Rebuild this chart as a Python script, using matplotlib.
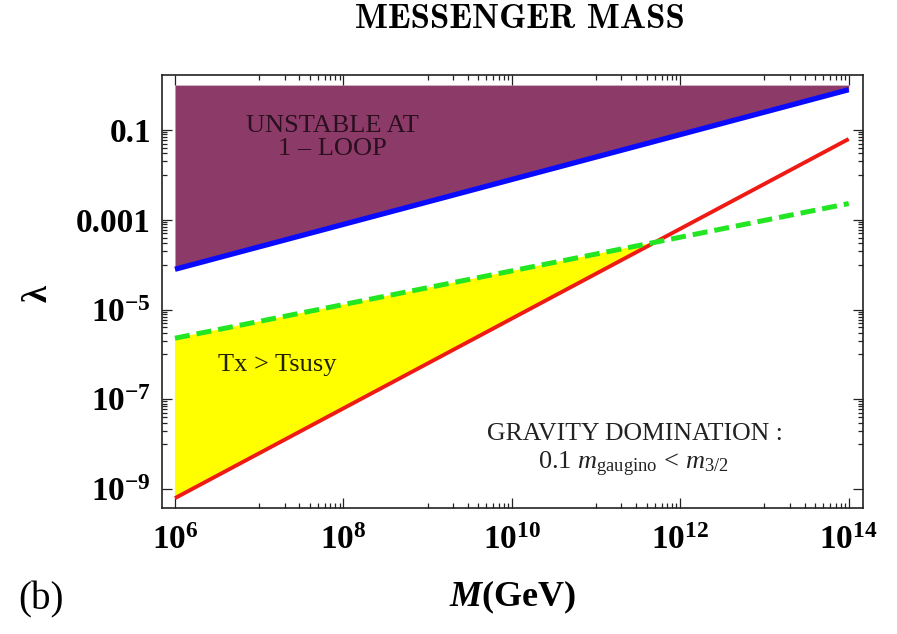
import numpy as np
import matplotlib
matplotlib.use("Agg")
import matplotlib.pyplot as plt
from matplotlib.ticker import FixedLocator, FuncFormatter

plt.rcParams['mathtext.fontset'] = 'custom'
plt.rcParams['mathtext.rm'] = 'Liberation Serif'
plt.rcParams['mathtext.it'] = 'Liberation Serif:italic'
plt.rcParams['mathtext.bf'] = 'Liberation Serif:bold'
plt.rcParams['mathtext.bfit'] = 'Liberation Serif:bold:italic'
plt.rcParams['font.family'] = 'Liberation Serif'

# Messenger mass range (GeV) and the three boundary curves (lambda values at the ends)
mass = [1e6, 1e14]
lam_unstable = [7.9e-5, 0.79]      # one-loop stability bound (blue)
lam_gravity = [6.3e-10, 0.063]     # gravity domination bound (red)
lam_temp = [2.3e-6, 2.3e-3]        # Tx = Tsusy (green dashed)
lam_top = 1.0

x_major = [1e6, 1e8, 1e10, 1e12, 1e14]
y_major = [1e-9, 1e-7, 1e-5, 1e-3, 1e-1]
y_major_labels = [r'$\mathbf{10^{-9}}$', r'$\mathbf{10^{-7}}$', r'$\mathbf{10^{-5}}$', '0.001', '0.1']

fig = plt.figure(figsize=(8.97, 6.34), dpi=100)
ax = fig.add_axes([162/897, 1-508/634, (863-162)/897, (508-75)/634])
ax.set_xscale('log')
ax.set_yscale('log')
ax.set_xlim(10**5.846, 10**14.17)
ax.set_ylim(10**-9.42, 10**0.225)

# unstable region above the blue line
ax.fill_between(mass, lam_unstable, lam_top, color='#8c3a68', lw=0, zorder=1)
ax.plot(mass, lam_unstable, color='#0a0aff', lw=3.8, solid_capstyle='butt', zorder=4)

# crossing of the red and green lines (both straight in log-log)
lm = np.log10(mass)
lg = np.log10(lam_gravity)
lt = np.log10(lam_temp)
sg = (lg[1] - lg[0]) / (lm[1] - lm[0])
st = (lt[1] - lt[0]) / (lm[1] - lm[0])
xc = lm[0] + (lt[0] - lg[0]) / (sg - st)
yc = lg[0] + sg * (xc - lm[0])
ax.fill([mass[0], 10**xc, mass[0]], [lam_temp[0], 10**yc, lam_gravity[0]],
        color='#ffff00', lw=0, zorder=1)
ax.plot(mass, lam_gravity, color='#f01a14', lw=2.8, solid_capstyle='butt', zorder=3)
ax.plot(mass, lam_temp, color='#22e622', lw=3.6, ls=(0, (3.0, 1.4)), zorder=3)

# ticks
ax.xaxis.set_major_locator(FixedLocator(x_major))
ax.xaxis.set_minor_locator(FixedLocator([m * 10.0**k for k in (7, 9, 11, 13) for m in range(1, 10)]))
ax.yaxis.set_major_locator(FixedLocator(y_major))
ax.yaxis.set_minor_locator(FixedLocator([m * 10.0**k for k in (-8, -6, -4, -2) for m in range(1, 10)]))
ax.xaxis.set_major_formatter(FuncFormatter(lambda v, p: r'$\mathbf{10^{%d}}$' % round(np.log10(v))))
ax.set_yticks(y_major)
ax.set_yticklabels(y_major_labels)
ax.xaxis.set_minor_formatter(FuncFormatter(lambda v, p: ''))
ax.yaxis.set_minor_formatter(FuncFormatter(lambda v, p: ''))
ax.tick_params(which='both', direction='in', top=True, right=True, width=0.9, colors='#222222')
ax.tick_params(which='major', length=7, labelsize=24)
ax.tick_params(axis='x', which='major', pad=12)
ax.tick_params(axis='y', which='major', pad=8)
ax.tick_params(which='minor', length=3.5)
for lab in ax.get_xticklabels() + ax.get_yticklabels():
    lab.set_fontweight('bold')
    lab.set_color('black')
for s in ax.spines.values():
    s.set_linewidth(1.2)
    s.set_color('#222222')

# region annotations
ax.text(0.243, 0.856, 'UNSTABLE AT\n1 \u2013 LOOP', transform=ax.transAxes, ha='center', va='center',
        fontsize=19, color='#2a0f1f', linespacing=1.1, zorder=5)
ax.text(0.165, 0.33, 'Tx > Tsusy', transform=ax.transAxes, ha='center', va='center',
        fontsize=19, color='#222200', zorder=5)
ax.text(0.675, 0.17, 'GRAVITY DOMINATION :', transform=ax.transAxes, ha='center', va='center',
        fontsize=18.5, color='#222222', zorder=5)
ax.text(0.672, 0.1, r'$\mathrm{0.1}\ m_{\mathrm{gaugino}}\,<\,m_{3/2}$', transform=ax.transAxes,
        ha='center', va='center', fontsize=19, color='#222222', zorder=5)

# titles and axis labels
fig.text(520/897, 1-20/634, 'MESSENGER MASS', ha='center', va='center', fontsize=25,
         fontfamily='cmb10')
fig.text(38/897, 1-293/634, r'$\boldsymbol{\lambda}$', ha='center', va='center', fontsize=25,
         rotation=90)
fig.text(513/897, 1-597/634, r'$\mathbfit{M}$' + r'$\mathbf{(GeV)}$', ha='center', va='center',
         fontsize=26)
fig.text(41/897, 1-600/634, '(b)', ha='center', va='center', fontsize=28)

fig.savefig('out.png', dpi=100)
